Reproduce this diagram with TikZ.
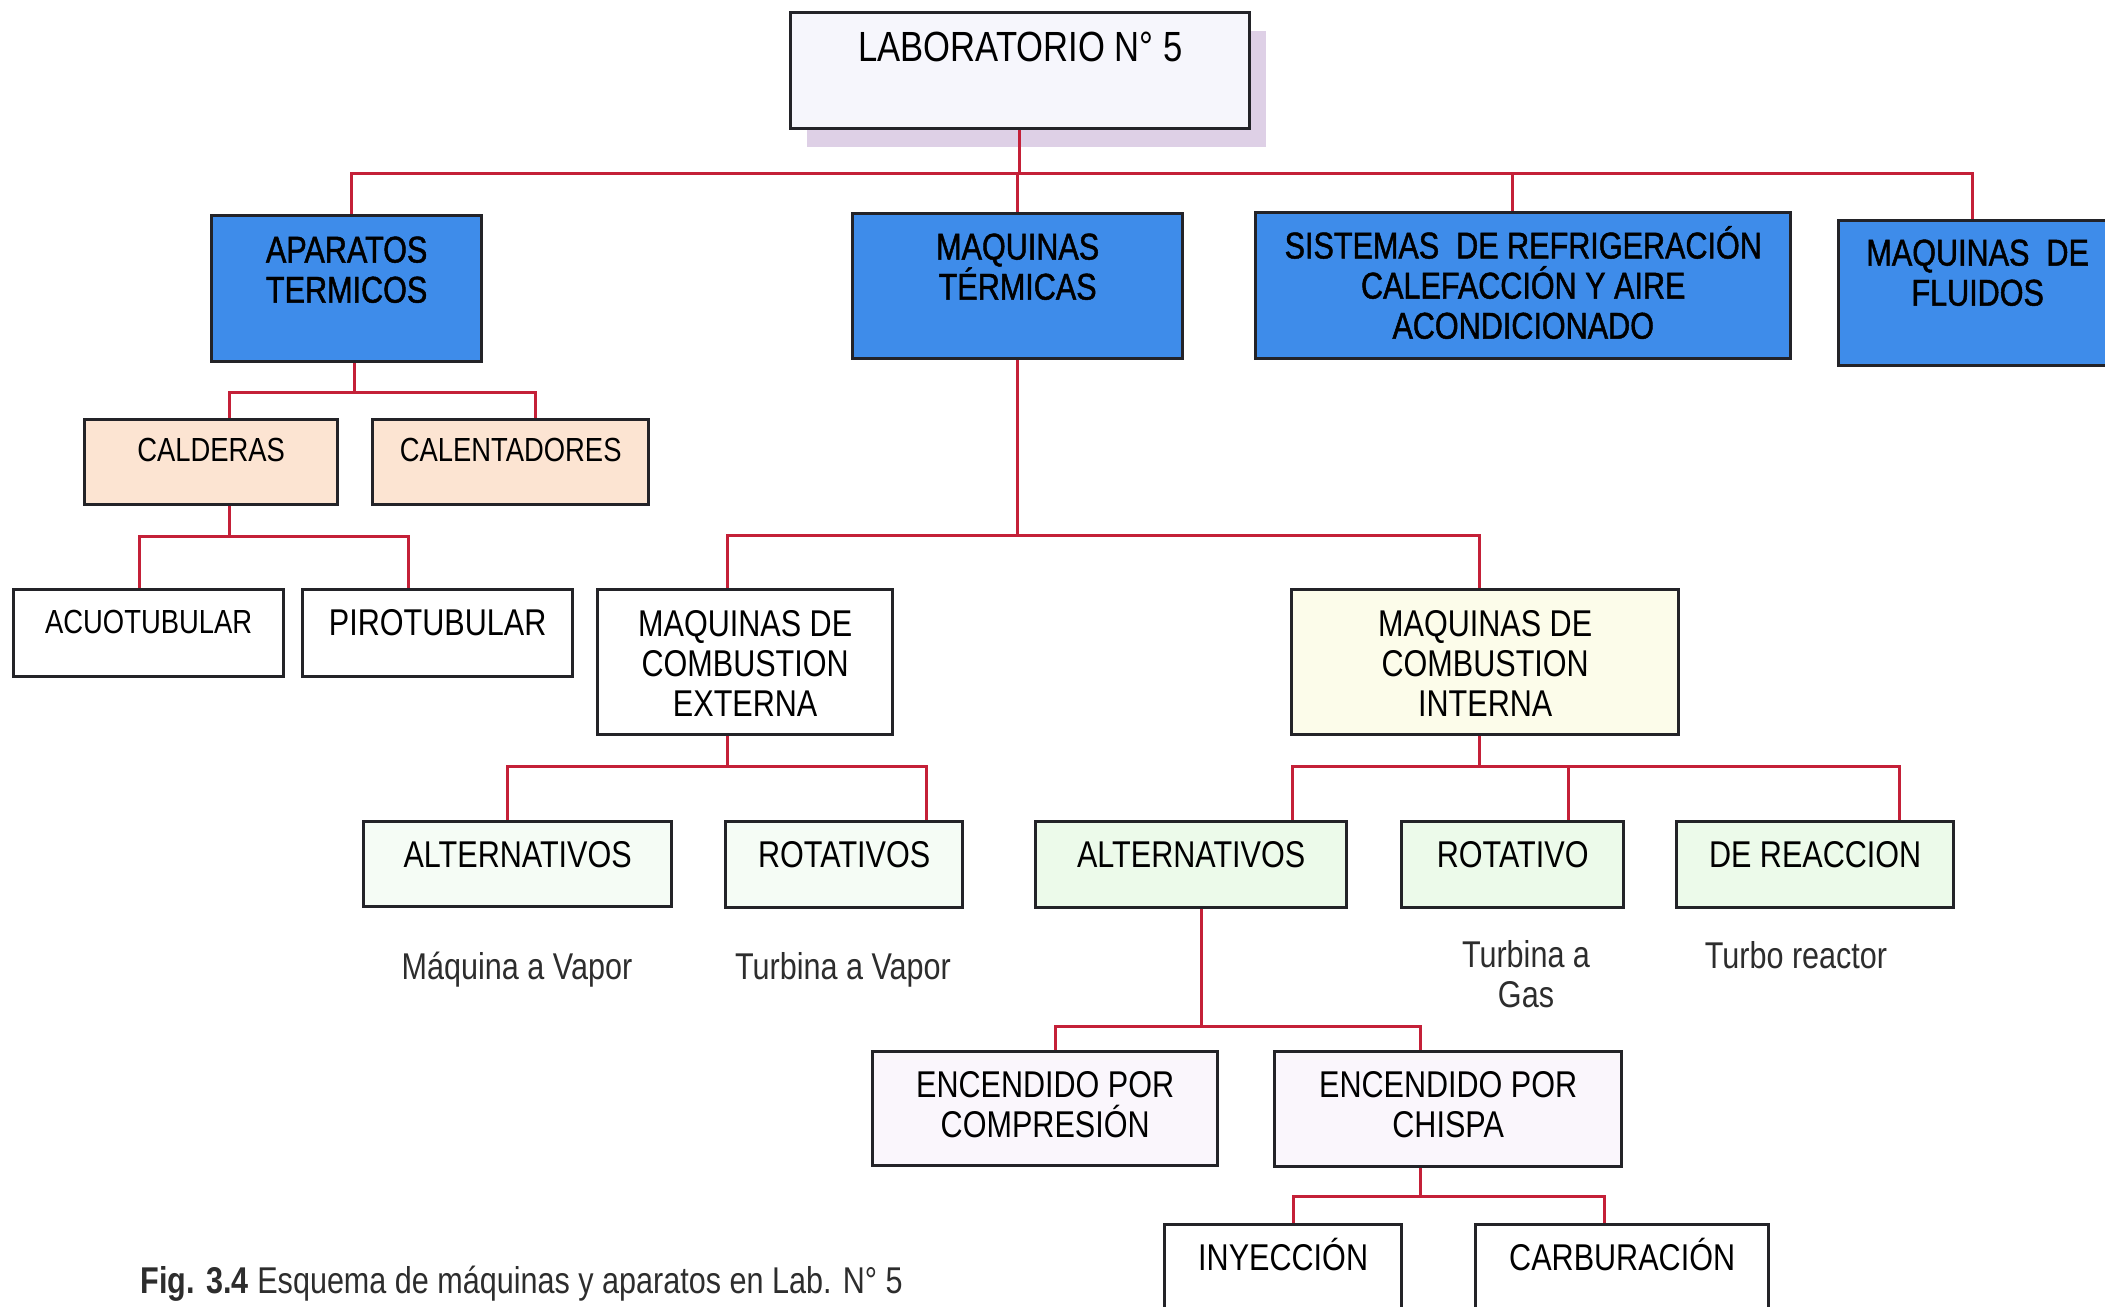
\documentclass[tikz,border=0pt]{standalone}
\usepackage{fontspec}
\setmainfont{Liberation Sans}[FakeStretch=0.82]
\newfontfamily\heavyfont{Liberation Sans}[FakeStretch=0.82,FakeBold=1.2]
\usetikzlibrary{calc,shadows}

\definecolor{conncolor}{RGB}{196,32,56}
\definecolor{boxline}{RGB}{35,35,40}
\definecolor{labfill}{RGB}{246,246,252}
\definecolor{labshadow}{RGB}{222,208,230}
\definecolor{bluefill}{RGB}{62,140,234}
\definecolor{peachfill}{RGB}{252,228,210}
\definecolor{yellowfill}{RGB}{252,252,234}
\definecolor{greenfill}{RGB}{236,250,234}
\definecolor{palegreen}{RGB}{245,252,245}
\definecolor{lilacfill}{RGB}{250,246,252}
\definecolor{notegray}{RGB}{45,45,45}

\tikzset{
  box/.style={draw=boxline, line width=0.9pt, inner sep=0pt, anchor=north west, align=center,
    text height=0.46cm, font=\fontsize{10.6}{11.4}\selectfont},
  small/.style={font=\fontsize{9.5}{11}\selectfont, text height=0.43cm},
  bluebox/.style={fill=bluefill, font=\heavyfont\fontsize{10.6}{11.4}\selectfont},
  note/.style={text=notegray, font=\fontsize{10.6}{11.4}\selectfont, align=center, inner sep=0pt, anchor=base},
  conn/.style={draw=conncolor, line width=0.8pt},
}

\begin{document}
\begin{tikzpicture}[x=0.01cm, y=-0.01cm]
  \useasboundingbox (0,0) rectangle (2105,1307);

  % nivel superior
  \node[box, fill=labfill, minimum width=4.59cm, text height=0.49cm, text depth=0.67cm,
    font=\fontsize{12}{14}\selectfont,
    drop shadow={shadow xshift=0.16cm, shadow yshift=-0.18cm, fill=labshadow, opacity=1}] (lab) at (789,11) {LABORATORIO N° 5};

  \node[box, bluebox, minimum width=2.70cm, text height=0.87cm, text depth=0.59cm] (apar) at (210,214) {APARATOS\\TERMICOS};
  \node[box, bluebox, minimum width=3.30cm, text height=0.86cm, text depth=0.59cm] (maqt) at (851,212) {MAQUINAS\\TÉRMICAS};
  \node[box, bluebox, minimum width=5.35cm, text height=1.26cm, text depth=0.20cm] (sist) at (1254,211) {SISTEMAS\ \ DE REFRIGERACIÓN\\CALEFACCIÓN Y AIRE\\ACONDICIONADO};
  \node[box, bluebox, minimum width=2.78cm, text height=0.85cm, text depth=0.60cm] (flui) at (1837,219) {MAQUINAS\ \ DE\\FLUIDOS};

  % aparatos termicos
  \node[box, small, fill=peachfill, minimum width=2.53cm, text height=0.42cm, text depth=0.43cm] (cald) at (83,418) {CALDERAS};
  \node[box, small, fill=peachfill, minimum width=2.76cm, text height=0.42cm, text depth=0.43cm] (calen) at (371,418) {CALENTADORES};
  \node[box, small, fill=white, minimum width=2.70cm, text height=0.44cm, text depth=0.43cm] (acuo) at (12,588) {ACUOTUBULAR};
  \node[box, fill=white, minimum width=2.70cm, text depth=0.41cm] (piro) at (301,588) {PIROTUBULAR};

  % maquinas termicas
  \node[box, fill=white, minimum width=2.95cm, text height=1.27cm, text depth=0.18cm] (ext) at (596,588) {MAQUINAS DE\\COMBUSTION\\EXTERNA};
  \node[box, fill=yellowfill, minimum width=3.87cm, text height=1.27cm, text depth=0.18cm] (int) at (1290,588) {MAQUINAS DE\\COMBUSTION\\INTERNA};

  \node[box, fill=palegreen, minimum width=3.08cm, text depth=0.39cm] (altext) at (362,820) {ALTERNATIVOS};
  \node[box, fill=palegreen, minimum width=2.37cm, text depth=0.40cm] (rotext) at (724,820) {ROTATIVOS};
  \node[box, fill=greenfill, minimum width=3.11cm, text depth=0.40cm] (altint) at (1034,820) {ALTERNATIVOS};
  \node[box, fill=greenfill, minimum width=2.22cm, text depth=0.40cm] (rotint) at (1400,820) {ROTATIVO};
  \node[box, fill=greenfill, minimum width=2.77cm, text depth=0.40cm] (reac) at (1675,820) {DE REACCION};

  \node[note] (maqvap) at (517,980) {Máquina a Vapor};
  \node[note] (turvap) at (843,980) {Turbina a Vapor};
  \node[note] (turgas) at (1526,1008) {Turbina a\\Gas};
  \node[note] (turbo) at (1796,969) {Turbo reactor};

  \node[box, fill=lilacfill, minimum width=3.45cm, text height=0.86cm, text depth=0.28cm] (comp) at (871,1050) {ENCENDIDO POR\\COMPRESIÓN};
  \node[box, fill=lilacfill, minimum width=3.47cm, text height=0.86cm, text depth=0.29cm] (chis) at (1273,1050) {ENCENDIDO POR\\CHISPA};
  \node[box, fill=white, minimum width=2.37cm, text depth=0.60cm] (iny) at (1163,1223) {INYECCIÓN};
  \node[box, fill=white, minimum width=2.93cm, text depth=0.60cm] (carb) at (1474,1223) {CARBURACIÓN};

  \node[anchor=base west, inner sep=0pt, text=notegray, font=\fontsize{10.6}{11.4}\selectfont] (caption) at (140,1294) {\textbf{Fig. 3.4} Esquema de máquinas y aparatos en Lab. N° 5};

  % conectores
  \coordinate (busT) at ($(lab.south)+(-1,43)$);
  \draw[conn] (lab.south -| busT) -- (busT);
  \draw[conn] (busT) -| ($(apar.north)+(5,0)$);
  \draw[conn] (busT) -| (maqt.north);
  \draw[conn] (busT) -| ($(sist.north)+(-11,0)$);
  \draw[conn] (busT) -| ($(flui.north)+(-5,0)$);

  \coordinate (busA) at ($(apar.south)+(8,29)$);
  \draw[conn] (apar.south -| busA) -- (busA);
  \draw[conn] (busA) -| ($(cald.north)+(18,0)$);
  \draw[conn] (busA) -| ($(calen.north)+(25,0)$);

  \coordinate (busC) at ($(cald.south)+(18,30)$);
  \draw[conn] (cald.south -| busC) -- (busC);
  \draw[conn] (busC) -| ($(acuo.north)+(-9,0)$);
  \draw[conn] (busC) -| ($(piro.north)+(-29,0)$);

  \coordinate (busM) at ($(maqt.south)+(0,175)$);
  \draw[conn] (maqt.south) -- (busM);
  \draw[conn] (busM) -| ($(ext.north)+(-18,0)$);
  \draw[conn] (busM) -| ($(int.north)+(-6,0)$);

  \coordinate (busE) at ($(ext.south)+(-18,30)$);
  \draw[conn] (ext.south -| busE) -- (busE);
  \draw[conn] (busE) -| ($(altext.north)+(-10,0)$);
  \draw[conn] (busE) -| ($(rotext.north)+(82,0)$);

  \coordinate (busI) at ($(int.south)+(-6,30)$);
  \draw[conn] (int.south -| busI) -- (busI);
  \draw[conn] (busI) -| ($(altint.north)+(101,0)$);
  \draw[conn] (busI) -| ($(rotint.north)+(56,0)$);
  \draw[conn] (busI) -| ($(reac.north)+(84,0)$);

  \coordinate (busL) at ($(altint.south)+(10,117)$);
  \draw[conn] (altint.south -| busL) -- (busL);
  \draw[conn] (busL) -| ($(comp.north)+(10,0)$);
  \draw[conn] (busL) -| ($(chis.north)+(-28,0)$);

  \coordinate (busS) at ($(chis.south)+(-28,28)$);
  \draw[conn] (chis.south -| busS) -- (busS);
  \draw[conn] (busS) -| ($(iny.north)+(10,0)$);
  \draw[conn] (busS) -| ($(carb.north)+(-18,0)$);
\end{tikzpicture}
\end{document}
